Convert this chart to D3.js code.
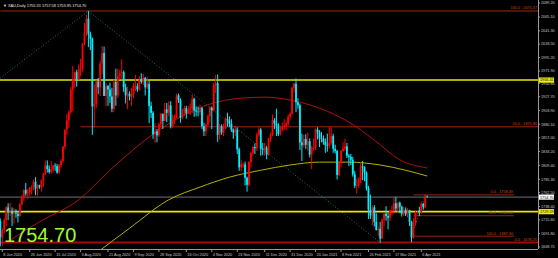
<!DOCTYPE html>
<html>
<head>
<meta charset="utf-8">
<script src="https://cdn.jsdelivr.net/npm/d3@7"></script>
<style>
  html, body { margin: 0; padding: 0; background: #000; }
  svg { display: block; }
  text { font-family: "Liberation Sans", Arial, sans-serif; }
</style>
</head>
<body>
<svg id="chart" width="558" height="258"></svg>
<script>
/*
 * Data: XAU daily candles, [date, open, high, low, close]
 */
var CANDLES = [
  ["2020-06-05",1713,1718,1670,1685],
  ["2020-06-08",1685,1702,1670,1698],["2020-06-09",1698,1719,1692,1715],["2020-06-10",1715,1739,1705,1737],
  ["2020-06-11",1737,1744,1715,1729],["2020-06-12",1729,1745,1722,1730],["2020-06-15",1730,1737,1705,1726],
  ["2020-06-16",1726,1736,1709,1727],["2020-06-17",1727,1734,1719,1726],["2020-06-18",1726,1731,1711,1722],
  ["2020-06-19",1722,1745,1721,1742],["2020-06-22",1742,1758,1740,1754],["2020-06-23",1754,1768,1748,1767],
  ["2020-06-24",1767,1779,1757,1761],["2020-06-25",1761,1769,1752,1763],["2020-06-26",1763,1772,1757,1771],
  ["2020-06-29",1771,1775,1759,1772],["2020-06-30",1772,1785,1766,1781],["2020-07-01",1781,1789,1758,1769],
  ["2020-07-02",1769,1777,1757,1775],["2020-07-03",1775,1776,1769,1772],["2020-07-06",1772,1785,1764,1784],
  ["2020-07-07",1784,1797,1772,1795],["2020-07-08",1795,1818,1793,1809],["2020-07-09",1809,1818,1797,1803],
  ["2020-07-10",1803,1809,1795,1798],["2020-07-13",1798,1817,1795,1802],["2020-07-14",1802,1810,1797,1809],
  ["2020-07-15",1809,1813,1800,1808],["2020-07-16",1808,1812,1795,1797],["2020-07-17",1797,1812,1794,1810],
  ["2020-07-20",1810,1820,1805,1817],["2020-07-21",1817,1843,1814,1842],["2020-07-22",1842,1871,1837,1871],
  ["2020-07-23",1871,1898,1863,1887],["2020-07-24",1887,1904,1874,1901],["2020-07-27",1901,1945,1898,1940],
  ["2020-07-28",1940,1981,1903,1958],["2020-07-29",1958,1971,1943,1970],["2020-07-30",1970,1974,1945,1957],
  ["2020-07-31",1957,1983,1956,1975],["2020-08-03",1975,1993,1963,1976],["2020-08-04",1976,2020,1971,2019],
  ["2020-08-05",2019,2055,2016,2038],["2020-08-06",2038,2069,2032,2062],["2020-08-07",2062,2075.47,2013,2035],
  ["2020-08-10",2035,2040,2008,2028],["2020-08-11",2028,2030,1862,1911],["2020-08-12",1911,1949,1874,1915],
  ["2020-08-13",1915,1956,1908,1954],["2020-08-14",1954,1960,1932,1944],["2020-08-17",1944,1989,1929,1985],
  ["2020-08-18",1985,2015,1967,2003],["2020-08-19",2003,2014,1929,1929],["2020-08-20",1929,1951,1911,1946],
  ["2020-08-21",1946,1948,1912,1940],["2020-08-24",1940,1952,1917,1928],["2020-08-25",1928,1943,1901,1907],
  ["2020-08-26",1907,1957,1901,1953],["2020-08-27",1953,1976,1912,1930],["2020-08-28",1930,1976,1925,1964],
  ["2020-08-31",1964,1974,1957,1968],["2020-09-01",1968,1992,1957,1970],["2020-09-02",1970,1973,1936,1944],
  ["2020-09-03",1944,1950,1916,1930],["2020-09-04",1930,1945,1906,1933],["2020-09-07",1933,1937,1921,1928],
  ["2020-09-08",1928,1943,1912,1931],["2020-09-09",1931,1951,1925,1946],["2020-09-10",1946,1965,1937,1946],
  ["2020-09-11",1946,1951,1936,1940],["2020-09-14",1940,1963,1938,1956],["2020-09-15",1956,1968,1950,1953],
  ["2020-09-16",1953,1967,1948,1960],["2020-09-17",1960,1962,1930,1944],["2020-09-18",1944,1962,1941,1950],
  ["2020-09-21",1950,1955,1882,1912],["2020-09-22",1912,1919,1891,1900],["2020-09-23",1900,1903,1855,1863],
  ["2020-09-24",1863,1882,1848,1868],["2020-09-25",1868,1872,1849,1861],["2020-09-28",1861,1883,1858,1880],
  ["2020-09-29",1880,1900,1874,1898],["2020-09-30",1898,1899,1872,1886],["2020-10-01",1886,1917,1886,1906],
  ["2020-10-02",1906,1917,1884,1900],["2020-10-05",1900,1920,1894,1913],["2020-10-06",1913,1920,1873,1877],
  ["2020-10-07",1877,1897,1874,1887],["2020-10-08",1887,1897,1880,1893],["2020-10-09",1893,1933,1891,1930],
  ["2020-10-12",1930,1933,1917,1922],["2020-10-13",1922,1925,1883,1891],["2020-10-14",1891,1907,1889,1902],
  ["2020-10-15",1902,1912,1895,1908],["2020-10-16",1908,1912,1890,1899],["2020-10-19",1899,1912,1898,1905],
  ["2020-10-20",1905,1916,1896,1907],["2020-10-21",1907,1931,1899,1924],["2020-10-22",1924,1926,1893,1904],
  ["2020-10-23",1904,1911,1894,1902],["2020-10-26",1902,1911,1894,1901],["2020-10-27",1901,1914,1896,1908],
  ["2020-10-28",1908,1910,1872,1877],["2020-10-29",1877,1883,1860,1868],["2020-10-30",1868,1882,1860,1879],
  ["2020-11-02",1879,1897,1876,1894],["2020-11-03",1894,1911,1883,1909],["2020-11-04",1909,1911,1872,1904],
  ["2020-11-05",1904,1952,1902,1948],["2020-11-06",1948,1965,1934,1951],["2020-11-09",1951,1966,1850,1862],
  ["2020-11-10",1862,1881,1854,1877],["2020-11-11",1877,1880,1862,1866],["2020-11-12",1866,1881,1860,1873],
  ["2020-11-13",1873,1892,1872,1889],["2020-11-16",1889,1900,1876,1887],["2020-11-17",1887,1894,1875,1881],
  ["2020-11-18",1881,1889,1867,1871],["2020-11-19",1871,1873,1855,1866],["2020-11-20",1866,1878,1860,1871],
  ["2020-11-23",1871,1875,1829,1837],["2020-11-24",1837,1840,1800,1806],["2020-11-25",1806,1818,1799,1811],
  ["2020-11-26",1811,1814,1805,1811],["2020-11-27",1811,1816,1775,1788],["2020-11-30",1788,1790,1764,1776],
  ["2020-12-01",1776,1817,1773,1815],["2020-12-02",1815,1833,1806,1831],["2020-12-03",1831,1843,1826,1841],
  ["2020-12-04",1841,1847,1829,1839],["2020-12-07",1839,1866,1834,1862],["2020-12-08",1862,1875,1859,1871],
  ["2020-12-09",1871,1874,1826,1838],["2020-12-10",1838,1848,1827,1836],["2020-12-11",1836,1848,1826,1840],
  ["2020-12-14",1840,1843,1820,1828],["2020-12-15",1828,1857,1826,1855],["2020-12-16",1855,1866,1850,1862],
  ["2020-12-17",1862,1897,1860,1887],["2020-12-18",1887,1891,1872,1881],["2020-12-21",1881,1907,1860,1878],
  ["2020-12-22",1878,1882,1860,1863],["2020-12-23",1863,1878,1861,1872],["2020-12-24",1872,1883,1868,1876],
  ["2020-12-28",1876,1889,1870,1877],["2020-12-29",1877,1884,1870,1881],["2020-12-30",1881,1897,1877,1893],
  ["2020-12-31",1893,1901,1888,1898],["2021-01-04",1898,1945,1897,1943],["2021-01-05",1943,1952,1935,1950],
  ["2021-01-06",1950,1959,1901,1918],["2021-01-07",1918,1925,1907,1913],["2021-01-08",1913,1916,1836,1849],
  ["2021-01-11",1849,1864,1817,1844],["2021-01-12",1844,1862,1840,1855],["2021-01-13",1855,1863,1838,1845],
  ["2021-01-14",1845,1866,1835,1851],["2021-01-15",1851,1856,1823,1828],["2021-01-18",1828,1843,1803,1840],
  ["2021-01-19",1840,1856,1835,1840],["2021-01-20",1840,1873,1836,1871],["2021-01-21",1871,1875,1854,1866],
  ["2021-01-22",1866,1870,1841,1856],["2021-01-25",1856,1867,1849,1855],["2021-01-26",1855,1861,1845,1850],
  ["2021-01-27",1850,1856,1831,1844],["2021-01-28",1844,1864,1833,1843],["2021-01-29",1843,1876,1838,1848],
  ["2021-02-01",1848,1875,1845,1860],["2021-02-02",1860,1864,1831,1838],["2021-02-03",1838,1845,1830,1834],
  ["2021-02-04",1834,1836,1785,1793],["2021-02-05",1793,1817,1791,1814],["2021-02-08",1814,1836,1807,1834],
  ["2021-02-09",1834,1849,1833,1838],["2021-02-10",1838,1855,1834,1842],["2021-02-11",1842,1848,1822,1826],
  ["2021-02-12",1826,1829,1808,1824],["2021-02-15",1824,1829,1810,1819],["2021-02-16",1819,1824,1790,1794],
  ["2021-02-17",1794,1800,1770,1774],["2021-02-18",1774,1787,1761,1775],["2021-02-19",1775,1789,1771,1784],
  ["2021-02-22",1784,1815,1779,1808],["2021-02-23",1808,1817,1784,1806],["2021-02-24",1806,1808,1782,1797],
  ["2021-02-25",1797,1799,1766,1770],["2021-02-26",1770,1774,1717,1733],["2021-03-01",1733,1759,1717,1723],
  ["2021-03-02",1723,1740,1706,1737],["2021-03-03",1737,1741,1704,1712],["2021-03-04",1712,1727,1697,1698],
  ["2021-03-05",1698,1704,1687,1700],["2021-03-08",1700,1712,1676.25,1683],["2021-03-09",1683,1718,1683,1716],
  ["2021-03-10",1716,1727,1705,1726],["2021-03-11",1726,1739,1714,1722],["2021-03-12",1722,1728,1699,1719],
  ["2021-03-15",1719,1733,1713,1731],["2021-03-16",1731,1740,1723,1731],["2021-03-17",1731,1755,1726,1744],
  ["2021-03-18",1744,1755,1729,1735],["2021-03-19",1735,1746,1727,1745],["2021-03-22",1745,1747,1727,1738],
  ["2021-03-23",1738,1740,1721,1726],["2021-03-24",1726,1738,1722,1733],["2021-03-25",1733,1737,1722,1725],
  ["2021-03-26",1725,1736,1720,1732],["2021-03-29",1732,1733,1705,1712],["2021-03-30",1712,1714,1677,1685],
  ["2021-03-31",1685,1718,1683,1708],["2021-04-01",1708,1732,1705,1728],["2021-04-02",1728,1731,1726,1729],
  ["2021-04-05",1729,1738,1722,1728],["2021-04-06",1728,1746,1726,1743],["2021-04-07",1743,1745,1733,1737],
  ["2021-04-08",1737,1759,1735,1756],["2021-04-09",1755.31,1757.58,1753.95,1754.70]
];

var MA_RED = [
  ["2020-06-10",1676],["2020-07-03",1712],["2020-07-31",1750],["2020-08-24",1801],
  ["2020-09-17",1853],["2020-10-13",1893],["2020-11-03",1915],["2020-11-24",1925],
  ["2020-12-11",1927],["2020-12-31",1922],["2021-01-22",1908],["2021-02-12",1884],
  ["2021-03-03",1853],["2021-03-22",1819],["2021-04-09",1805]
];
var MA_YELLOW = [
  ["2020-08-11",1653],["2020-09-07",1701],["2020-10-05",1750],["2020-10-27",1772],
  ["2020-11-17",1789],["2020-12-09",1801],["2020-12-31",1810],["2021-01-22",1815],
  ["2021-02-12",1815],["2021-03-08",1810],["2021-03-25",1801],["2021-04-09",1791]
];

// Horizontal lines
var YELLOW_LEVELS = [ ["1956.41", 1956.41], ["1729.59", 1729.59] ];
var BID = 1754.70;
var HEADER = "\u25BC XAU,Daily  1755.31 1757.58 1753.95 1754.70";

// Fibonacci levels: [label, price, start date]
var FIB_BIG = [
  ["100.0 - 2075.47", 2075.47, "2020-06-05"],
  ["50.0 - 1875.86", 1875.86, "2020-08-03"],
  ["0.0 - 1676.25", 1676.25, "2020-06-05"]
];
var FIB_SMALL = [
  ["0.0 - 1758.49", 1758.49, "2021-03-31"],
  ["38.2 - 1722.60", 1722.60, "2021-03-31"],
  ["100.0 - 1687.30", 1687.30, "2021-03-31"]
];
// dotted fib trend lines: [date, price] pairs
var FIB_DIAG = [
  [["2020-06-05", 1960], ["2020-08-07", 2075.47]],
  [["2020-08-07", 2075.47], ["2021-03-08", 1676.25]],
  [["2021-03-30", 1687.30], ["2021-04-08", 1758.49]]
];

// Axis labels
var PRICE_TICKS = [2089.20, 2065.10, 2041.30, 2018.50, 1995.20, 1971.90, 1950.80, 1927.70,
  1903.90, 1880.10, 1857.00, 1833.20, 1809.40, 1785.30, 1762.50, 1738.40, 1715.60, 1691.80, 1668.70];
var DATE_TICKS = [
  ["2020-06-08","8 Jun 2020"],["2020-06-26","26 Jun 2020"],["2020-07-15","15 Jul 2020"],
  ["2020-08-03","3 Aug 2020"],["2020-08-21","21 Aug 2020"],["2020-09-09","9 Sep 2020"],
  ["2020-09-28","28 Sep 2020"],["2020-10-16","16 Oct 2020"],["2020-11-04","4 Nov 2020"],
  ["2020-11-23","23 Nov 2020"],["2020-12-11","11 Dec 2020"],["2020-12-31","31 Dec 2020"],
  ["2021-01-20","20 Jan 2021"],["2021-02-08","8 Feb 2021"],["2021-02-26","26 Feb 2021"],
  ["2021-03-17","17 Mar 2021"],["2021-04-06","6 Apr 2021"]
];

/*
 * Layout
 */
var W = 558, H = 258;
var PLOT_RIGHT = 538;   // price scale starts here
var PLOT_BOTTOM = 249;  // time scale starts here
var FIB_RIGHT = 514;

var UP_COLOR = "#ff0000";
var DOWN_COLOR = "#00f0ff";

var svg = d3.select("#chart");

var dates = CANDLES.map(function (d) { return d[0]; });
var X = d3.scalePoint().domain(dates).range([0.3, 427.2]);
var Y = d3.scaleLinear().domain([1668.7, 2065.1]).range([247, 17]);

svg.append("rect").attr("width", W).attr("height", H).attr("fill", "#000");

var plot = svg.append("g");
plot.append("clipPath").attr("id", "clip")
  .append("rect").attr("width", PLOT_RIGHT).attr("height", PLOT_BOTTOM);
var inner = plot.append("g").attr("clip-path", "url(#clip)");

// Fibonacci lines
function draw_fib(levels, right, color) {
  levels.forEach(function (f) {
    inner.append("line")
      .attr("x1", X(f[2])).attr("x2", right)
      .attr("y1", Y(f[1])).attr("y2", Y(f[1]))
      .attr("stroke", color).attr("stroke-width", 1);
  });
}
draw_fib(FIB_BIG.slice(0, 2), PLOT_RIGHT, "#9a2a08");
inner.append("line")
  .attr("x1", 0).attr("x2", PLOT_RIGHT)
  .attr("y1", Y(FIB_BIG[2][1])).attr("y2", Y(FIB_BIG[2][1]))
  .attr("stroke", "#a00a0a").attr("stroke-width", 2);
draw_fib(FIB_SMALL, FIB_RIGHT, "#8a2a10");

FIB_DIAG.forEach(function (p) {
  inner.append("line")
    .attr("x1", X(p[0][0])).attr("y1", Y(p[0][1]))
    .attr("x2", X(p[1][0])).attr("y2", Y(p[1][1]))
    .attr("stroke", "#1f7a55").attr("stroke-width", 1)
    .attr("stroke-dasharray", "1,2");
});

// Yellow levels and bid line
YELLOW_LEVELS.forEach(function (l) {
  inner.append("line")
    .attr("x1", 0).attr("x2", PLOT_RIGHT)
    .attr("y1", Y(l[1])).attr("y2", Y(l[1]))
    .attr("stroke", "#e8e800").attr("stroke-width", 1.6);
});
inner.append("line")
  .attr("x1", 0).attr("x2", PLOT_RIGHT)
  .attr("y1", Y(BID)).attr("y2", Y(BID))
  .attr("stroke", "#6a7078").attr("stroke-width", 1);

// Moving averages
var ma_line = d3.line()
  .x(function (d) { return X(d[0]); })
  .y(function (d) { return Y(d[1]); })
  .curve(d3.curveMonotoneX);
inner.append("path").datum(MA_RED).attr("d", ma_line)
  .attr("fill", "none").attr("stroke", "#b01010").attr("stroke-width", 1);
inner.append("path").datum(MA_YELLOW).attr("d", ma_line)
  .attr("fill", "none").attr("stroke", "#b8b000").attr("stroke-width", 1);

// Candles
var candle = inner.selectAll(".candle").data(CANDLES).enter().append("g")
  .attr("class", "candle");
candle.append("line")
  .attr("x1", function (d) { return X(d[0]); })
  .attr("x2", function (d) { return X(d[0]); })
  .attr("y1", function (d) { return Y(d[2]); })
  .attr("y2", function (d) { return Y(d[3]); })
  .attr("stroke", function (d) { return d[4] >= d[1] ? UP_COLOR : DOWN_COLOR; })
  .attr("stroke-width", 1);
candle.append("rect")
  .attr("x", function (d) { return X(d[0]) - 0.9; })
  .attr("width", 1.8)
  .attr("y", function (d) { return Y(Math.max(d[1], d[4])); })
  .attr("height", function (d) { return Math.max(0.6, Math.abs(Y(d[1]) - Y(d[4]))); })
  .attr("fill", function (d) { return d[4] >= d[1] ? UP_COLOR : DOWN_COLOR; });

// Fib labels
function fib_labels(levels, right, color) {
  levels.forEach(function (f) {
    svg.append("text")
      .attr("x", right - 1).attr("y", Y(f[1]) - 1.5)
      .attr("text-anchor", "end")
      .attr("font-size", 3.8)
      .attr("fill", color)
      .text(f[0]);
  });
}
fib_labels(FIB_BIG, PLOT_RIGHT, "#c8461a");
fib_labels(FIB_SMALL, FIB_RIGHT, "#c8461a");

// Price axis
svg.append("line")
  .attr("x1", PLOT_RIGHT + 0.5).attr("x2", PLOT_RIGHT + 0.5)
  .attr("y1", 0).attr("y2", PLOT_BOTTOM)
  .attr("stroke", "#9a9a9a");
var pticks = svg.append("g").selectAll("g").data(PRICE_TICKS).enter().append("g");
pticks.append("line")
  .attr("x1", PLOT_RIGHT).attr("x2", PLOT_RIGHT + 2)
  .attr("y1", function (d) { return Y(d); })
  .attr("y2", function (d) { return Y(d); })
  .attr("stroke", "#9a9a9a");
pticks.append("text")
  .attr("x", PLOT_RIGHT + 3).attr("y", function (d) { return Y(d) + 1.3; })
  .attr("font-size", 3.8).attr("fill", "#c8c8c8")
  .text(function (d) { return d.toFixed(2); });

// highlighted price boxes
function price_box(price, label, bg) {
  svg.append("rect")
    .attr("x", PLOT_RIGHT + 1).attr("y", Y(price) - 2.6)
    .attr("width", 15).attr("height", 5.2).attr("fill", bg);
  svg.append("text")
    .attr("x", PLOT_RIGHT + 2).attr("y", Y(price) + 1.4)
    .attr("font-size", 3.8).attr("fill", "#000")
    .text(label);
}
YELLOW_LEVELS.forEach(function (l) { price_box(l[1], l[0], "#f0f000"); });
price_box(BID, BID.toFixed(2), "#ffffff");

// Time axis
svg.append("line")
  .attr("x1", 0).attr("x2", PLOT_RIGHT)
  .attr("y1", PLOT_BOTTOM + 0.5).attr("y2", PLOT_BOTTOM + 0.5)
  .attr("stroke", "#9a9a9a");
var dticks = svg.append("g").selectAll("g").data(DATE_TICKS).enter().append("g");
dticks.append("line")
  .attr("x1", function (d) { return X(d[0]); })
  .attr("x2", function (d) { return X(d[0]); })
  .attr("y1", PLOT_BOTTOM).attr("y2", PLOT_BOTTOM + 3)
  .attr("stroke", "#9a9a9a");
dticks.append("text")
  .attr("x", function (d) { return X(d[0]) + 1; })
  .attr("y", 255.5)
  .attr("font-size", 3.8).attr("fill", "#c8c8c8")
  .text(function (d) { return d[1]; });

// Header and big price
svg.append("text")
  .attr("x", 3).attr("y", 6.5)
  .attr("font-size", 3.9).attr("fill", "#e8e8e8")
  .text(HEADER);
svg.append("text")
  .attr("x", 4).attr("y", 242)
  .attr("font-size", 20).attr("fill", "#9dfa3c")
  .text(BID.toFixed(2));
</script>
</body>
</html>
